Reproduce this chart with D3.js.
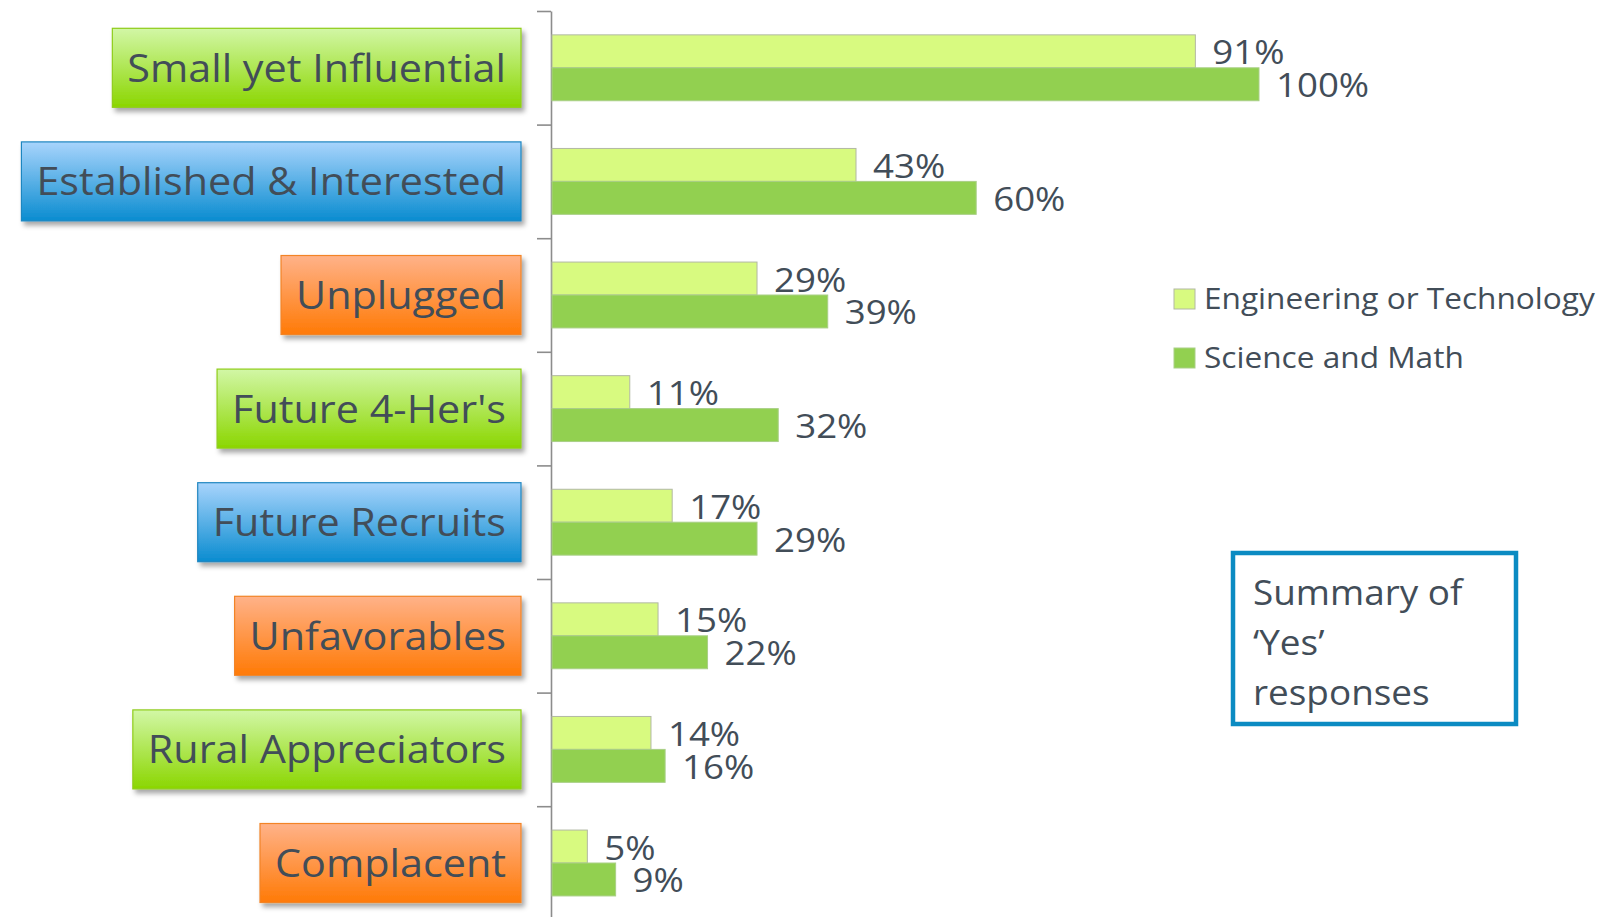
<!DOCTYPE html>
<html>
<head>
<meta charset="utf-8">
<script src="https://cdn.jsdelivr.net/npm/d3@7"></script>
<style>
  html, body { margin: 0; padding: 0; background: #ffffff; }
  svg { display: block; }
  text { font-family: "Open Sans", Lato, sans-serif; fill: #424d58; }
</style>
</head>
<body>
<svg id="chart" width="1604" height="917"></svg>
<script>
// Segments and their share of 'Yes' responses (percent)
const categories = [
  "Small yet Influential",
  "Established & Interested",
  "Unplugged",
  "Future 4-Her's",
  "Future Recruits",
  "Unfavorables",
  "Rural Appreciators",
  "Complacent"
];
const segmentGroup = ["green", "blue", "orange", "green", "blue", "orange", "green", "orange"];
const engineeringTech = [91, 43, 29, 11, 17, 15, 14, 5];
const scienceMath = [100, 60, 39, 32, 29, 22, 16, 9];
const seriesNames = ["Engineering or Technology", "Science and Math"];
const noteLines = ["Summary of", "\u2018Yes\u2019", "responses"];

const svg = d3.select("#chart");

// Slightly wide lettering: stretch each text horizontally by factor k
function widen(sel, k) {
  sel.each(function () {
    const w = this.getComputedTextLength();
    d3.select(this).attr("textLength", w * k).attr("lengthAdjust", "spacingAndGlyphs");
  });
  return sel;
}

const plotLeft = 552, plotTop = 11;
const step = 113.6;
const plotBottom = plotTop + step * categories.length;

const x = d3.scaleLinear().domain([0, 100]).range([plotLeft, plotLeft + 707]);
const y = d3.scaleBand().domain(categories).range([plotTop, plotBottom])
  .paddingInner(0.42).paddingOuter(0.21);
const sub = d3.scaleBand().domain(seriesNames).range([0, y.bandwidth()]);

const colors = { "Engineering or Technology": "#d8fa80", "Science and Math": "#92d050" };
const strokes = { "Engineering or Technology": "#b2b8a4", "Science and Math": "#a9cf86" };

// Gradients for the segment label boxes
const defs = svg.append("defs");
const grads = {
  green:  { top: "#d2f7a6", bottom: "#8bd600", border: "#8fcd1a" },
  blue:   { top: "#a8d4fc", bottom: "#0a8cd0", border: "#1f86c0" },
  orange: { top: "#ffb289", bottom: "#ff7a06", border: "#f28427" }
};
Object.entries(grads).forEach(([k, g]) => {
  const lg = defs.append("linearGradient").attr("id", "grad-" + k)
    .attr("x1", 0).attr("y1", 0).attr("x2", 0).attr("y2", 1);
  lg.append("stop").attr("offset", "0%").attr("stop-color", g.top);
  lg.append("stop").attr("offset", "100%").attr("stop-color", g.bottom);
});
const sh = defs.append("filter").attr("id", "shadow")
  .attr("x", "-10%").attr("y", "-20%").attr("width", "125%").attr("height", "150%");
sh.append("feDropShadow").attr("dx", 3).attr("dy", 4).attr("stdDeviation", 2.5)
  .attr("flood-color", "#000").attr("flood-opacity", 0.35);

// Axis with ticks on the category boundaries
const yEdge = d3.scaleLinear().domain([0, categories.length]).range([plotTop, plotBottom]);
const axis = d3.axisLeft(yEdge)
  .tickValues(d3.range(0, categories.length + 1))
  .tickFormat("")
  .tickSizeInner(14).tickSizeOuter(0);
const ax = svg.append("g").attr("transform", `translate(${plotLeft - 1},0)`).call(axis);
ax.select(".domain").attr("stroke", "#8c8c8c").attr("stroke-width", 1.6);
ax.selectAll(".tick line").attr("stroke", "#8c8c8c").attr("stroke-width", 1.6);

// Bars
const rows = categories.map((c, i) => ({
  cat: c,
  vals: [
    { s: seriesNames[0], v: engineeringTech[i] },
    { s: seriesNames[1], v: scienceMath[i] }
  ]
}));

const rowG = svg.append("g").selectAll("g").data(rows).join("g")
  .attr("transform", d => `translate(0,${y(d.cat)})`);

rowG.selectAll("rect").data(d => d.vals).join("rect")
  .attr("x", x(0))
  .attr("y", d => sub(d.s))
  .attr("width", d => x(d.v) - x(0))
  .attr("height", sub.bandwidth())
  .attr("fill", d => colors[d.s])
  .attr("stroke", d => strokes[d.s])
  .attr("stroke-width", 1);

const vals = rowG.selectAll("text.val").data(d => d.vals).join("text")
  .attr("class", "val")
  .attr("x", d => x(d.v) + 17)
  .attr("y", d => sub(d.s) + sub.bandwidth() / 2 + 13)
  .attr("font-size", 33)
  .text(d => d.v + "%");
widen(vals, 1.11);

// Segment label boxes
const boxRight = 521, boxH = 79, padX = 15;
const labG = svg.append("g").selectAll("g").data(categories).join("g")
  .attr("transform", (c) => `translate(0,${y(c) + y.bandwidth() / 2})`);

labG.each(function (c, i) {
  const g = d3.select(this);
  const grp = segmentGroup[i];
  const rect = g.append("rect");
  const t = g.append("text")
    .attr("x", boxRight - padX)
    .attr("y", 14)
    .attr("text-anchor", "end")
    .attr("font-size", 39)
    .text(c);
  widen(t, 1.06);
  const tw = +t.attr("textLength");
  rect.attr("x", boxRight - tw - 2 * padX)
    .attr("y", -boxH / 2)
    .attr("width", tw + 2 * padX)
    .attr("height", boxH)
    .attr("fill", `url(#grad-${grp})`)
    .attr("stroke", grads[grp].border)
    .attr("stroke-width", 1.2)
    .attr("filter", "url(#shadow)");
});

// Legend
const legend = svg.append("g").attr("transform", "translate(1174,289)");
const li = legend.selectAll("g").data(seriesNames).join("g")
  .attr("transform", (d, i) => `translate(0,${i * 59})`);
li.append("rect").attr("width", 21).attr("height", 20)
  .attr("fill", d => colors[d]).attr("stroke", d => strokes[d]).attr("stroke-width", 1);
widen(li.append("text").attr("x", 30).attr("y", 20).attr("font-size", 29).text(d => d), 1.09);

// Note box
const note = svg.append("g");
note.append("rect").attr("x", 1233).attr("y", 553).attr("width", 283).attr("height", 171)
  .attr("fill", "#ffffff").attr("stroke", "#0b8bc2").attr("stroke-width", 4.5);
widen(note.selectAll("text").data(noteLines).join("text")
  .attr("x", 1253).attr("y", (d, i) => 605 + i * 50)
  .attr("font-size", 34).text(d => d), 1.085);
</script>
</body>
</html>
